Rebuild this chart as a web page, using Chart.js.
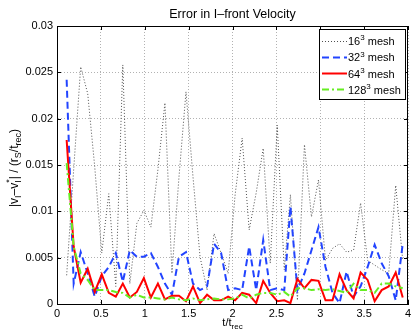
<!DOCTYPE html>
<html>
<head>
<meta charset="utf-8">
<script src="https://cdn.jsdelivr.net/npm/chart.js@4.4.0/dist/chart.umd.min.js"></script>
<style>
  html, body { margin: 0; padding: 0; background: #fff; }
</style>
</head>
<body>
<canvas id="myChart" width="415" height="335"></canvas>
<script>
'use strict';

// sample times (t / t_rec)
const times = [0.11, 0.19, 0.27, 0.35, 0.43, 0.51, 0.59, 0.67, 0.75, 0.83,
  0.91, 0.99, 1.07, 1.15, 1.23, 1.31, 1.39, 1.47, 1.55, 1.63,
  1.71, 1.79, 1.87, 1.95, 2.03, 2.11, 2.19, 2.27, 2.35, 2.43,
  2.51, 2.59, 2.66, 2.74, 2.82, 2.90, 2.98, 3.06, 3.14, 3.22,
  3.30, 3.38, 3.46, 3.54, 3.62, 3.70, 3.78, 3.86, 3.94];

const mesh16 = [0.0031, 0.0145, 0.0256, 0.0227, 0.0148, 0.0055, 0.0119, 0.0019, 0.0258, 0.0022,
  0.0087, 0.0101, 0.0083, 0.0145, 0.0217, 0.0033, 0.0137, 0.0229, 0.0137, 0.0051,
  0.0015, 0.0076, 0.0055, 0.0033, 0.0118, 0.0179, 0.0080, 0.0120, 0.0168, 0.0044,
  0.0193, 0.0037, 0.0118, 0.0004, 0.0172, 0.0094, 0.0134, 0.0047, 0.0060, 0.0065,
  0.0056, 0.0058, 0.0109, 0.0047, 0.0042, 0.0037, 0.0033, 0.0128, 0.0047];

const mesh32 = [0.0242, 0.0022, 0.0056, 0.0033, 0.0008, 0.0030, 0.0040, 0.0055, 0.0024, 0.0058,
  0.0051, 0.0051, 0.0055, 0.0040, 0.0022, 0.0010, 0.0051, 0.0056, 0.0022, 0.0015,
  0.0019, 0.0065, 0.0055, 0.0015, 0.0017, 0.0015, 0.0062, 0.0015, 0.0069, 0.0015,
  0.0017, 0.0015, 0.0105, 0.0015, 0.0033, 0.0058, 0.0083, 0.0040, 0.0012, 0.0001,
  0.0035, 0.0008, 0.0019, 0.0040, 0.0064, 0.0044, 0.0030, 0.0004, 0.0065];

const mesh64 = [0.0177, 0.0062, 0.0023, 0.0038, 0.0013, 0.0032, 0.0012, 0.0008, 0.0022, 0.0007,
  0.0013, 0.0028, 0.0007, 0.0022, 0.0005, 0.0009, 0.0009, 0.0003, 0.0019, 0.0001,
  0.0010, 0.0004, 0.0004, 0.0008, 0.0004, 0.0012, 0.0010, 0.0001, 0.0025, 0.0012,
  0.0003, 0.0004, 0.0001, 0.0027, 0.0017, 0.0026, 0.0025, 0.0004, 0.0004, 0.0032,
  0.0015, 0.0006, 0.0034, 0.0026, 0.0003, 0.0015, 0.0019, 0.0034, 0.0007];

const mesh128 = [0.0152, 0.0062, 0.0033, 0.0026, 0.0015, 0.0015, 0.0015, 0.0013, 0.0012, 0.0007,
  0.0010, 0.0007, 0.0007, 0.0006, 0.0005, 0.0007, 0.0005, 0.0004, 0.0006, 0.0004,
  0.0005, 0.0006, 0.0005, 0.0005, 0.0006, 0.0010, 0.0006, 0.0010, 0.0012, 0.0012,
  0.0010, 0.0013, 0.0008, 0.0017, 0.0017, 0.0015, 0.0016, 0.0015, 0.0016, 0.0014,
  0.0012, 0.0022, 0.0015, 0.0015, 0.0012, 0.0022, 0.0022, 0.0019, 0.0017];

const meshSizes = ['16', '32', '64', '128'];
const xTicks = [0, 0.5, 1, 1.5, 2, 2.5, 3, 3.5, 4];
const yTicks = [0, 0.005, 0.01, 0.015, 0.02, 0.025, 0.03];

const FONT = '"Liberation Sans", Arial, sans-serif';

function pts(ys) {
  return ys.map((y, i) => ({ x: times[i], y: y }));
}

// text made of normal / sub / sup pieces
function richWidth(ctx, parts, size, small) {
  let w = 0;
  parts.forEach(p => {
    ctx.font = (p.k ? small : size) + 'px ' + FONT;
    if (!p.keep) w += ctx.measureText(p.t).width;
  });
  return w;
}

function drawRich(ctx, parts, x, y, size, small) {
  parts.forEach(p => {
    ctx.font = (p.k ? small : size) + 'px ' + FONT;
    let dy = 0;
    if (p.k === 'sub') dy = size * 0.3;
    if (p.k === 'sup') dy = -size * 0.42;
    ctx.fillText(p.t, x, y + dy);
    if (!p.keep) x += ctx.measureText(p.t).width;
  });
}

const extras = {
  id: 'extras',
  beforeDraw(chart) {
    const ctx = chart.ctx;
    ctx.save();
    ctx.fillStyle = '#fff';
    ctx.fillRect(0, 0, chart.width, chart.height);
    ctx.restore();
  },
  afterDraw(chart) {
    const ctx = chart.ctx;
    const a = chart.chartArea;
    const xs = chart.scales.x, ys = chart.scales.y;
    ctx.save();

    // box + inward ticks
    ctx.strokeStyle = '#000';
    ctx.lineWidth = 1;
    ctx.strokeRect(Math.round(a.left) + 0.5, Math.round(a.top) + 0.5,
      Math.round(a.right - a.left) - 1, Math.round(a.bottom - a.top));
    ctx.beginPath();
    xTicks.forEach(v => {
      const px = Math.round(xs.getPixelForValue(v)) + 0.5;
      ctx.moveTo(px, a.bottom); ctx.lineTo(px, a.bottom - 4);
      ctx.moveTo(px, a.top); ctx.lineTo(px, a.top + 4);
    });
    yTicks.forEach(v => {
      const py = Math.round(ys.getPixelForValue(v)) + 0.5;
      ctx.moveTo(a.left, py); ctx.lineTo(a.left + 4, py);
      ctx.moveTo(a.right, py); ctx.lineTo(a.right - 4, py);
    });
    ctx.stroke();

    ctx.fillStyle = '#000';
    ctx.textBaseline = 'alphabetic';

    // title
    ctx.font = '12.5px ' + FONT;
    ctx.textAlign = 'center';
    ctx.fillText('Error in I\u2013front Velocity', (a.left + a.right) / 2, 17.5);
    ctx.textAlign = 'left';

    // x label
    const xl = [{ t: 't/t' }, { t: 'rec', k: 'sub' }];
    const xw = richWidth(ctx, xl, 11, 8);
    drawRich(ctx, xl, (a.left + a.right) / 2 - xw / 2, 325.5, 11, 8);

    // y label
    const yl = [{ t: '|v' }, { t: 'I', k: 'sub' },
      { t: '\u2013v' }, { t: 'I', k: 'sub', keep: true }, { t: '*', k: 'sup' },
      { t: '| / (r' }, { t: 'S', k: 'sub' }, { t: '/t' }, { t: 'rec', k: 'sub' }, { t: ')' }];
    const yw = richWidth(ctx, yl, 12, 9);
    ctx.translate(17.5, 168);
    ctx.rotate(-Math.PI / 2);
    drawRich(ctx, yl, -yw / 2, 0, 12, 9);
    ctx.setTransform(1, 0, 0, 1, 0, 0);

    // legend
    const lx = 319.5, ly = 29.5, lw = 86, lh = 70;
    ctx.fillStyle = '#fff';
    ctx.fillRect(lx, ly, lw, lh);
    ctx.strokeStyle = '#000';
    ctx.lineWidth = 1;
    ctx.strokeRect(lx, ly, lw, lh);
    chart.data.datasets.forEach((ds, i) => {
      const y = 40.5 + i * 16.3;
      ctx.save();
      ctx.strokeStyle = ds.borderColor;
      ctx.lineWidth = ds.borderWidth;
      ctx.setLineDash(ds.borderDash || []);
      ctx.beginPath();
      ctx.moveTo(322, Math.round(y) + 0.5);
      ctx.lineTo(347, Math.round(y) + 0.5);
      ctx.stroke();
      ctx.restore();
      ctx.fillStyle = '#000';
      drawRich(ctx, [{ t: meshSizes[i] }, { t: '3', k: 'sup' }, { t: ' mesh' }], 348, y + 4.5, 11, 8);
    });
    ctx.restore();
  }
};

const ctx = document.getElementById('myChart').getContext('2d');

new Chart(ctx, {
  type: 'line',
  data: {
    datasets: [
      { label: meshSizes[0], data: pts(mesh16), borderColor: '#505050', borderWidth: 1, borderDash: [1, 2], order: 4 },
      { label: meshSizes[1], data: pts(mesh32), borderColor: '#2244ff', borderWidth: 2, borderDash: [7, 4], order: 3 },
      { label: meshSizes[2], data: pts(mesh64), borderColor: '#ff0000', borderWidth: 2, order: 2 },
      { label: meshSizes[3], data: pts(mesh128), borderColor: '#66ee22', borderWidth: 2, borderDash: [7, 3, 2, 3], order: 1 }
    ]
  },
  options: {
    responsive: false,
    animation: false,
    devicePixelRatio: 1,
    layout: { padding: { left: 0, right: 7, top: 26, bottom: 0 } },
    elements: {
      point: { radius: 0 },
      line: { tension: 0, fill: false }
    },
    plugins: {
      legend: { display: false },
      tooltip: { enabled: false },
      title: { display: false }
    },
    scales: {
      x: {
        type: 'linear',
        min: 0,
        max: 4,
        afterBuildTicks: s => { s.ticks = xTicks.map(v => ({ value: v })); },
        afterFit: s => { s.height = 31; },
        ticks: {
          color: '#000',
          padding: 3,
          maxRotation: 0,
          font: { family: FONT, size: 11 },
          callback: v => String(v)
        },
        grid: { color: 'rgba(0,0,0,0.3)', drawTicks: false, lineWidth: 1 },
        border: { display: true, color: '#000', dash: [1, 2] }
      },
      y: {
        type: 'linear',
        min: 0,
        max: 0.03,
        afterBuildTicks: s => { s.ticks = yTicks.map(v => ({ value: v })); },
        afterFit: s => { s.width = 57; },
        ticks: {
          color: '#000',
          padding: 4,
          font: { family: FONT, size: 11 },
          callback: v => String(+v.toFixed(3))
        },
        grid: { color: 'rgba(0,0,0,0.3)', drawTicks: false, lineWidth: 1 },
        border: { display: true, color: '#000', dash: [1, 2] }
      }
    }
  },
  plugins: [extras]
});
</script>
</body>
</html>
